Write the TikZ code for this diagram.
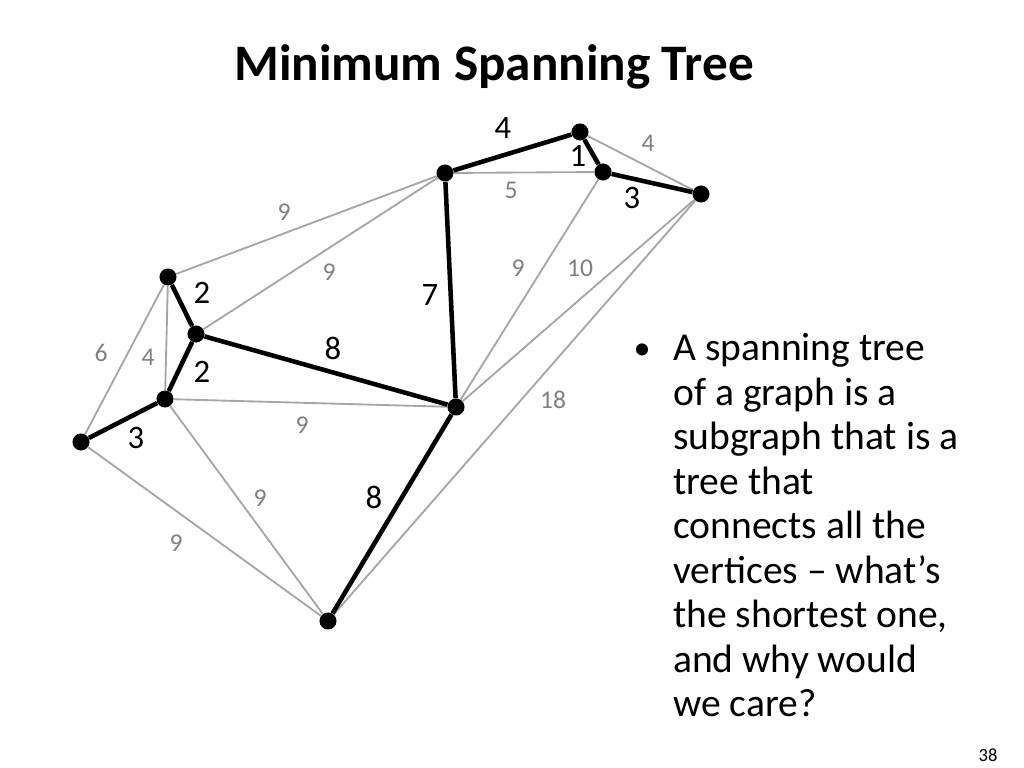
\documentclass[tikz,border=0pt]{standalone}
\usepackage{fontspec}
\setmainfont{Carlito}
\begin{document}
\begin{tikzpicture}[
    x=0.703pt, y=-0.703pt,
    vtx/.style   = { circle, fill=black, inner sep=0pt, minimum size=12pt },
    tree/.style  = { draw, line width=3.2pt },
    other/.style = { draw, gray!70, line width=1.3pt },
    tlbl/.style  = { font=\fontsize{23}{23}\selectfont },
    olbl/.style  = { font=\fontsize{18}{18}\selectfont, text=gray },
  ]
  \useasboundingbox (0,0) rectangle (1024,768);
  % title and text
  \node (title) at (494,67) {\fontsize{36}{36}\selectfont\bfseries Minimum Spanning Tree};
  \node (dot) at (642,352) {\fontsize{24}{24}\selectfont •};
  \node [anchor=north west, inner sep=0pt, align=left,
         font=\fontsize{27.8}{31.3}\selectfont] (bullet) at (673,333)
    {A spanning tree\\ of a graph is a\\ subgraph that is a\\ tree that\\ connects all the\\
     vertices -- what’s\\ the shortest one,\\ and why would\\ we care?};
  \node (pnum) at (988,755) {\fontsize{13}{13}\selectfont 38};

  % vertices
  \node [vtx] (a) at (580,132) {};
  \node [vtx] (b) at (603,172) {};
  \node [vtx] (c) at (701,194) {};
  \node [vtx] (d) at (445,173) {};
  \node [vtx] (e) at (168,277) {};
  \node [vtx] (f) at (196,334) {};
  \node [vtx] (g) at (165,399) {};
  \node [vtx] (h) at (81,442) {};
  \node [vtx] (i) at (456,407) {};
  \node [vtx] (j) at (328,621) {};

  % other edges
  \begin{scope}[every path/.style=other]
    \path (a) -- (c);
    \path (d) -- (b);
    \path (d) -- (e);
    \path (d) -- (f);
    \path (b) -- (i);
    \path (c) -- (i);
    \path (c) -- (j);
    \path (e) -- (h);
    \path (e) -- (g);
    \path (g) -- (i);
    \path (g) -- (j);
    \path (h) -- (j);
  \end{scope}
  % tree edges
  \begin{scope}[every path/.style=tree]
    \path (d) -- (a);
    \path (a) -- (b);
    \path (b) -- (c);
    \path (d) -- (i);
    \path (e) -- (f);
    \path (f) -- (g);
    \path (g) -- (h);
    \path (f) -- (i);
    \path (i) -- (j);
  \end{scope}

  % weights
  \node [tlbl] (wda) at (503,128) {4};
  \node [tlbl] (wab) at (578,156) {1};
  \node [tlbl] (wbc) at (632,198) {3};
  \node [tlbl] (wdi) at (430,295) {7};
  \node [tlbl] (wef) at (202,293) {2};
  \node [tlbl] (wfi) at (333,348) {8};
  \node [tlbl] (wfg) at (202,372) {2};
  \node [tlbl] (wgh) at (136,438) {3};
  \node [tlbl] (wij) at (374,497) {8};
  \node [olbl] (wac) at (648,143) {4};
  \node [olbl] (wdb) at (511,190) {5};
  \node [olbl] (wde) at (284,212) {9};
  \node [olbl] (wdf) at (329,272) {9};
  \node [olbl] (wbi) at (518,268) {9};
  \node [olbl] (wci) at (580,268) {10};
  \node [olbl] (weh) at (101,353) {6};
  \node [olbl] (weg) at (148,357) {4};
  \node [olbl] (wcj) at (553,400) {18};
  \node [olbl] (wgi) at (302,425) {9};
  \node [olbl] (wgj) at (260,498) {9};
  \node [olbl] (whj) at (176,543) {9};
\end{tikzpicture}
\end{document}
